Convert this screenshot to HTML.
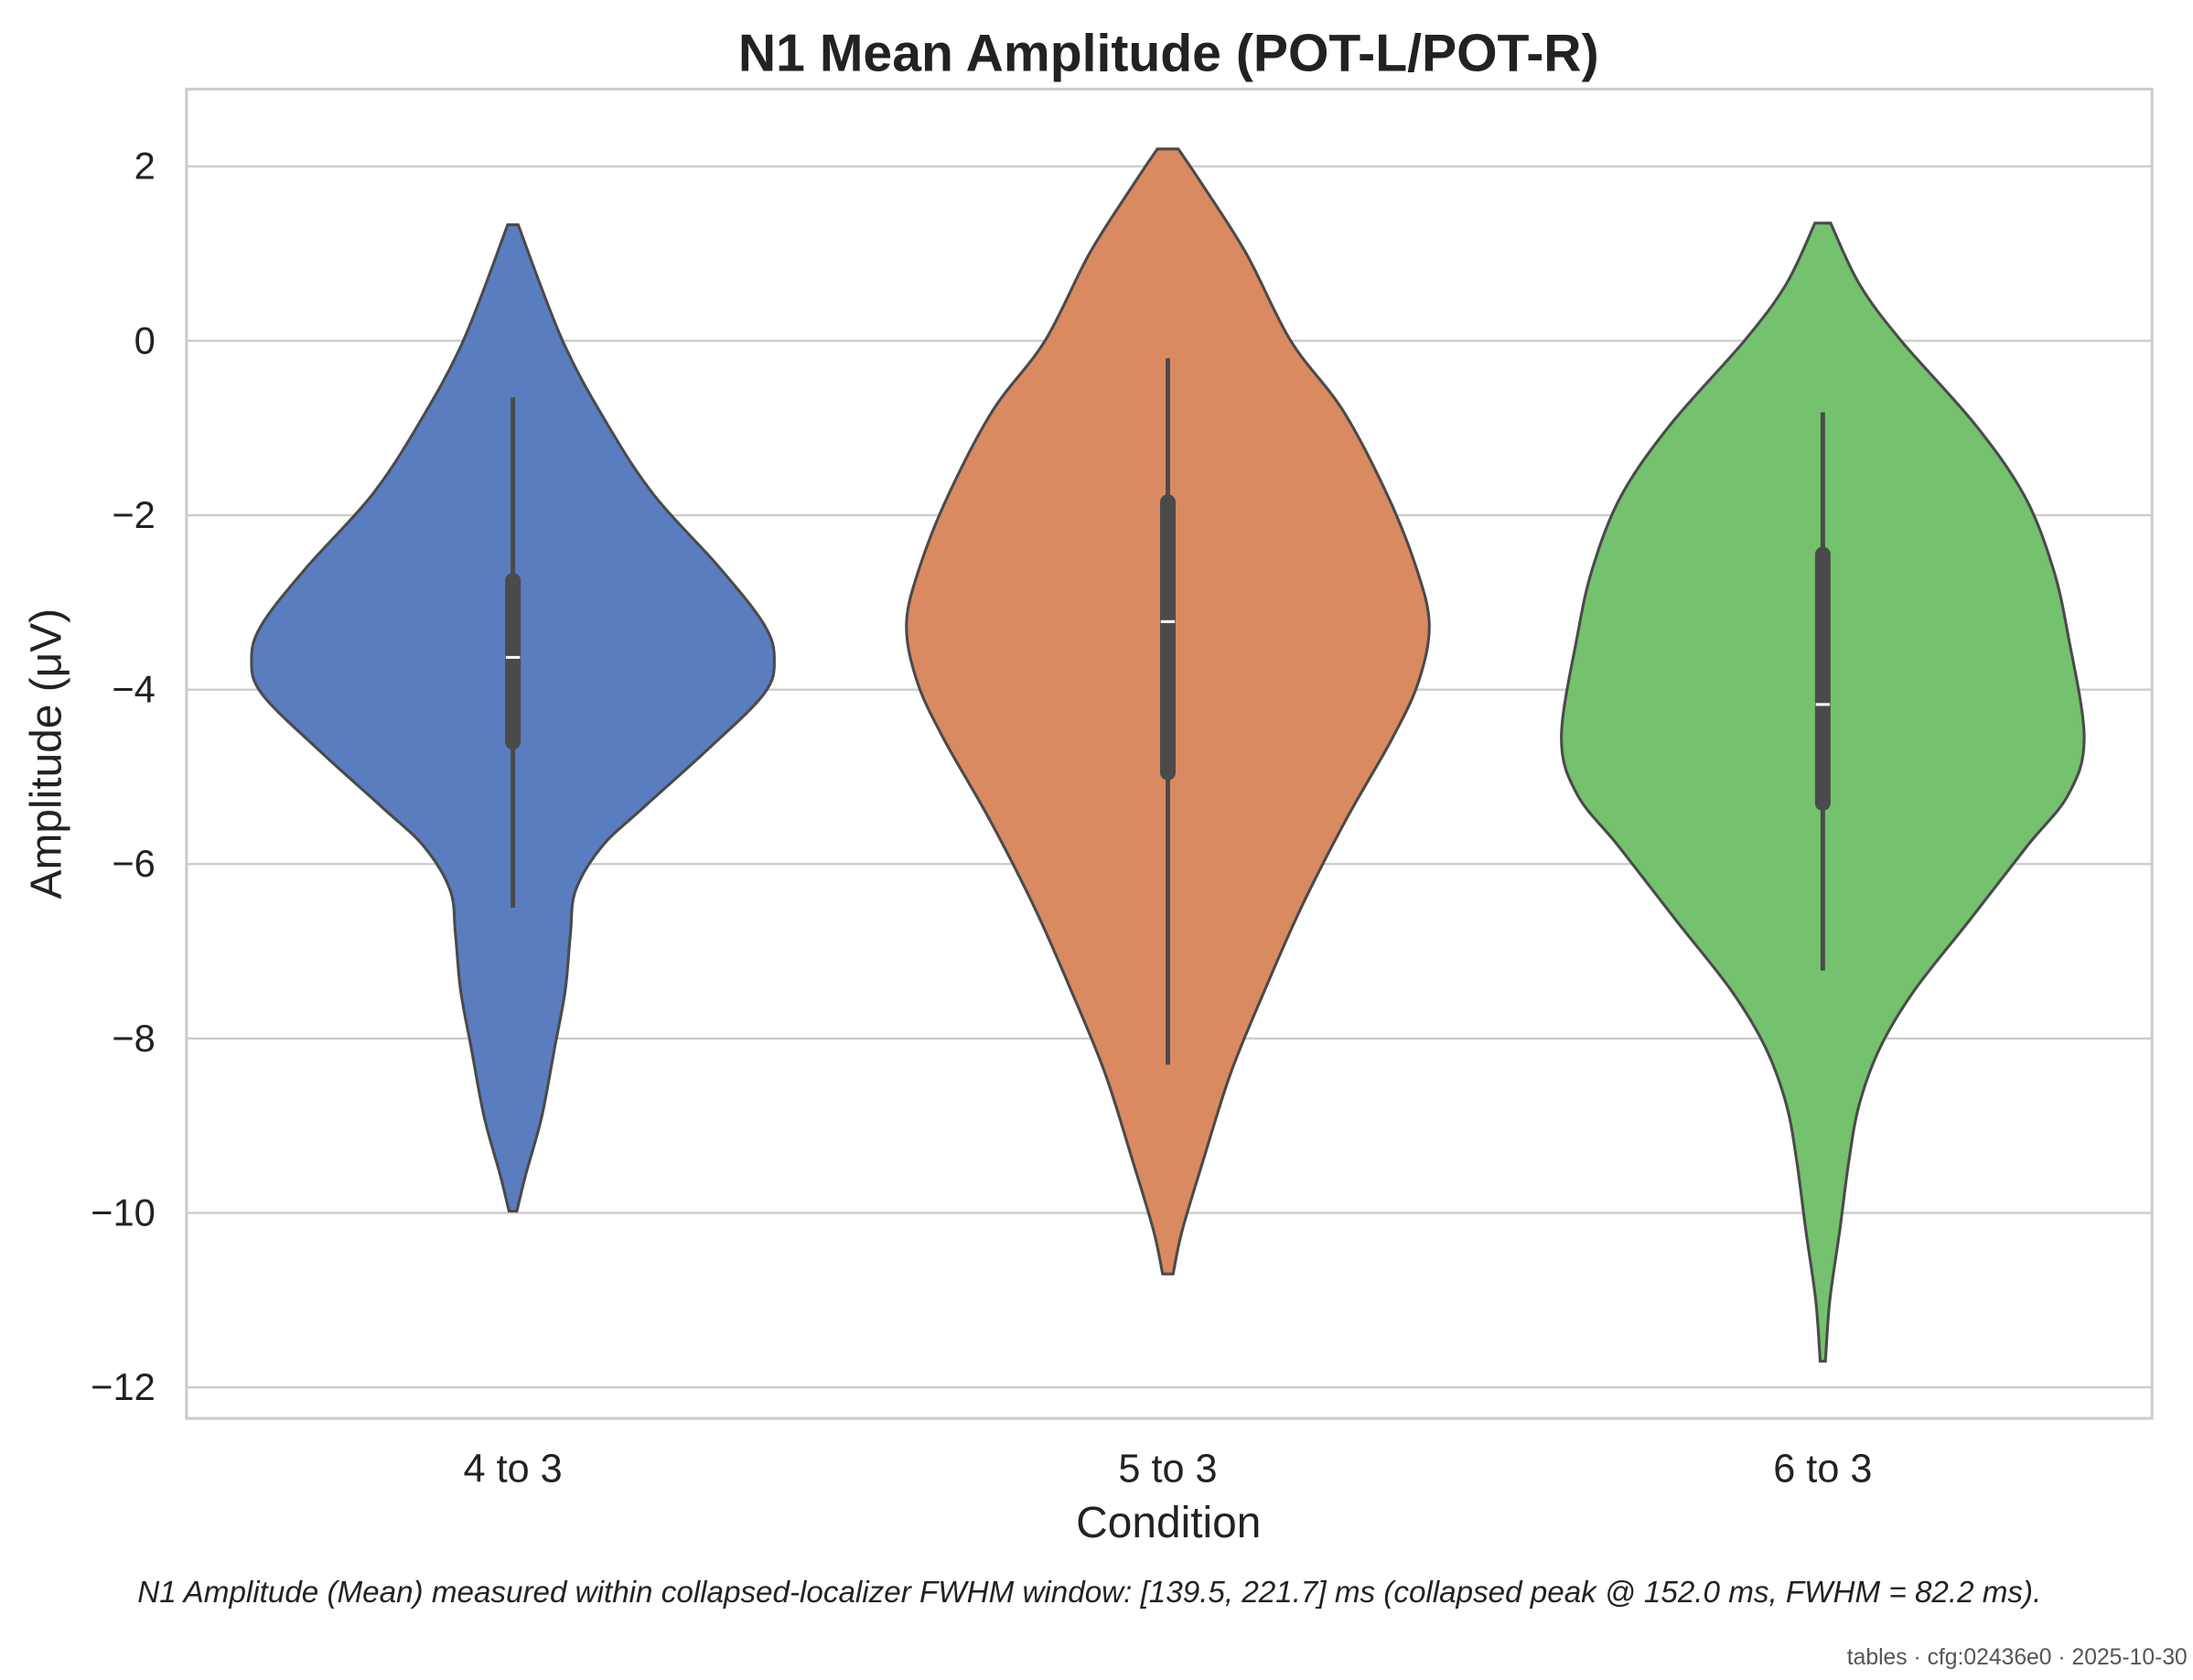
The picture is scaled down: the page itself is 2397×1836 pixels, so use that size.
<!DOCTYPE html>
<html><head><meta charset="utf-8"><style>
html,body{margin:0;padding:0;background:#fff}
svg{display:block;font-family:"Liberation Sans",Arial,sans-serif}
</style></head><body>
<svg id="chart" width="2397" height="1836" viewBox="0 0 1552 1188" preserveAspectRatio="none">
<rect x="0" y="0" width="1552" height="1188" fill="#fff"/>
<g id="grid"></g>
<rect x="132" y="63" width="1391" height="940" fill="none" stroke="#cccccc" stroke-width="2"/>
<g id="violins"></g>
<g id="yticks"></g>
<g id="xticks"></g>
<text x="827" y="50" text-anchor="middle" font-size="37" font-weight="bold" fill="#222">N1 Mean Amplitude (POT-L/POT-R)</text>
<text x="827" y="1087" text-anchor="middle" font-size="31" fill="#222">Condition</text>
<text transform="translate(43,533) rotate(-90)" text-anchor="middle" font-size="31" fill="#222">Amplitude (μV)</text>
<text x="771" y="1133" text-anchor="middle" font-size="21.5" font-style="italic" fill="#222">N1 Amplitude (Mean) measured within collapsed-localizer FWHM window: [139.5, 221.7] ms (collapsed peak @ 152.0 ms, FWHM = 82.2 ms).</text>
<text x="1548" y="1177" text-anchor="end" font-size="16" fill="#555">tables · cfg:02436e0 · 2025-10-30</text>
</svg>
<script>
const categories = ["4 to 3","5 to 3","6 to 3"];
const colors = ["#5a7dbf","#d98a60","#74c16e"];
const yTicks = [2,0,-2,-4,-6,-8,-10,-12];
const yTickLabels = ["2","0","\u22122","\u22124","\u22126","\u22128","\u221210","\u221212"];
// density profiles: amplitude values and relative half-widths (0..1)
const blueVals = [1.33,0,-0.95,-1.77,-2.6,-3.25,-3.65,-4.05,-4.7,-5.35,-5.8,-6.3,-6.8,-7.45,-8.1,-8.9,-9.55,-9.98];
const blueDens = [0.02,0.19,0.36,0.54,0.79,0.96,1.0,0.96,0.74,0.5,0.34,0.24,0.22,0.2,0.16,0.11,0.05,0.015];
const orangeVals = [2.2,1.8,1.0,0,-0.8,-1.77,-2.6,-3.25,-3.9,-4.55,-5.5,-6.5,-7.45,-8.4,-9.4,-10.2,-10.7];
const orangeDens = [0.04,0.13,0.3,0.47,0.67,0.84,0.95,1.0,0.96,0.86,0.68,0.51,0.37,0.24,0.135,0.055,0.02];
const greenVals = [1.35,0.65,0,-0.95,-1.77,-2.6,-3.4,-4.55,-5.2,-5.8,-6.65,-7.45,-8.1,-8.75,-9.4,-10.2,-11.0,-11.7];
const greenDens = [0.03,0.14,0.3,0.58,0.77,0.88,0.94,1.0,0.94,0.78,0.56,0.35,0.22,0.14,0.1,0.065,0.027,0.01];
const whiskerHigh = [-0.65,-0.2,-0.82];
const whiskerLow = [-6.5,-8.3,-7.22];
const q3 = [-2.75,-1.85,-2.45];
const q1 = [-4.6,-4.95,-5.3];
const medians = [-3.63,-3.22,-4.17];

const NS="http://www.w3.org/2000/svg";
const yScale = v => 241 - v*61.67;
const xScale = i => 363 + i*463.5;
const maxHalf = 185;
function mk(tag, attrs, parent){const e=document.createElementNS(NS,tag);for(const k in attrs)e.setAttribute(k,attrs[k]);parent.appendChild(e);return e;}
const grid=document.getElementById('grid'), yt=document.getElementById('yticks'), xt=document.getElementById('xticks'), vg=document.getElementById('violins');
yTicks.forEach((t,i)=>{
  const l=mk('line',{x1:132,x2:1523,y1:yScale(t),y2:yScale(t),stroke:'#cccccc','stroke-width':1.5},grid);
  
  
  const tx=mk('text',{x:110,y:yScale(t)+9,'text-anchor':'end','font-size':27,fill:'#222'},yt);
  tx.textContent=yTickLabels[i];
  
  
});
categories.forEach((c,i)=>{
  const tx=mk('text',{x:xScale(i),y:1048,'text-anchor':'middle','font-size':28,fill:'#222'},xt);
  tx.textContent=c;
  
  
});
function smooth(pts){
  let d='M'+pts[0][0]+','+pts[0][1];
  for(let i=0;i<pts.length-1;i++){
    const p0=pts[Math.max(0,i-1)],p1=pts[i],p2=pts[i+1],p3=pts[Math.min(pts.length-1,i+2)];
    const c1=[p1[0]+(p2[0]-p0[0])/6,p1[1]+(p2[1]-p0[1])/6];
    const c2=[p2[0]-(p3[0]-p1[0])/6,p2[1]-(p3[1]-p1[1])/6];
    d+=' C'+c1[0]+','+c1[1]+' '+c2[0]+','+c2[1]+' '+p2[0]+','+p2[1];
  }
  return d;
}
const profiles=[[blueVals,blueDens],[orangeVals,orangeDens],[greenVals,greenDens]];
profiles.forEach(([vals,dens],i)=>{
  const cx=xScale(i);
  const right=vals.map((v,k)=>[cx+dens[k]*maxHalf,yScale(v)]);
  const left=vals.map((v,k)=>[cx-dens[k]*maxHalf,yScale(v)]).reverse();
  let d=smooth(right)+' L'+left[0][0]+','+left[0][1]+smooth(left).replace(/^M[^ ]+/,'')+' Z';
  const p=mk('path',{d:d,fill:colors[i],stroke:'#4a4a4a','stroke-width':2},vg);
  
  
  const w=mk('line',{x1:cx,x2:cx,y1:yScale(whiskerHigh[i]),y2:yScale(whiskerLow[i]),stroke:'#4a4a4a','stroke-width':3.2},vg);
  
  
  const b=mk('line',{x1:cx,x2:cx,y1:yScale(q3[i]),y2:yScale(q1[i]),stroke:'#4a4a4a','stroke-width':11,'stroke-linecap':'round'},vg);
  
  
  const m=mk('line',{x1:cx-5,x2:cx+5,y1:yScale(medians[i]),y2:yScale(medians[i]),stroke:'#fff','stroke-width':2},vg);
  
  
});
</script>
</body></html>
